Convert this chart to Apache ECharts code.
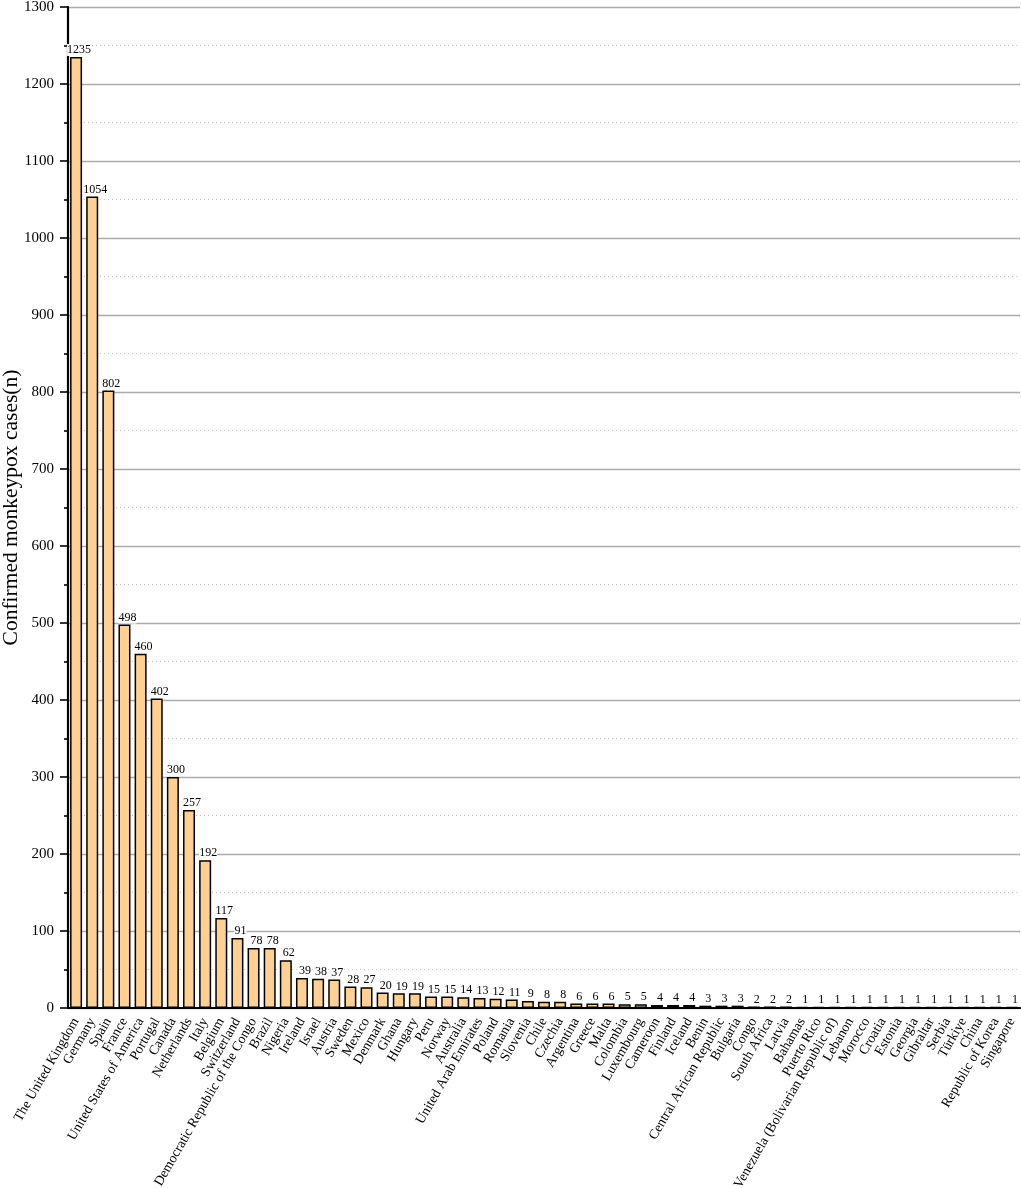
<!DOCTYPE html>
<html><head><meta charset="utf-8">
<style>html,body{margin:0;padding:0;background:#fff}#c{width:1021px;height:1188px}</style>
<script src="https://cdn.jsdelivr.net/npm/echarts@6/dist/echarts.min.js"></script>
</head><body><div id="c"></div>
<script>
const categories=["The United Kingdom","Germany","Spain","France","United States of America","Portugal","Canada","Netherlands","Italy","Belgium","Switzerland","Democratic Republic of the Congo","Brazil","Nigeria","Ireland","Israel","Austria","Sweden","Mexico","Denmark","Ghana","Hungary","Peru","Norway","Australia","United Arab Emirates","Poland","Romania","Slovenia","Chile","Czechia","Argentina","Greece","Malta","Colombia","Luxembourg","Cameroon","Finland","Iceland","Benin","Central African Republic","Bulgaria","Congo","South Africa","Latvia","Bahamas","Puerto Rico","Venezuela (Bolivarian Republic of)","Lebanon","Morocco","Croatia","Estonia","Georgia","Gibraltar","Serbia","Türkiye","China","Republic of Korea","Singapore"];
const cases=[1235,1054,802,498,460,402,300,257,192,117,91,78,78,62,39,38,37,28,27,20,19,19,15,15,14,13,12,11,9,8,8,6,6,6,5,5,4,4,4,3,3,3,2,2,2,1,1,1,1,1,1,1,1,1,1,1,1,1,1];
const yTitle="Confirmed monkeypox cases(n)";
const font="Liberation Serif";
const chart=echarts.init(document.getElementById('c'),null,{renderer:'canvas'});
chart.setOption({
 animation:false,backgroundColor:'#fff',textStyle:{fontFamily:font},
 grid:{left:68,right:1,top:7,bottom:180,containLabel:false,outerBoundsMode:'none'},
 xAxis:[{type:'category',data:categories,position:'bottom',
   axisLine:{lineStyle:{color:'#000',width:2.2}},
   axisTick:{alignWithLabel:true,length:8,lineStyle:{color:'#000',width:1.6}},
   axisLabel:{interval:0,rotate:60,color:'#000',fontFamily:font,fontSize:13.7,margin:11}},
  {type:'category',data:categories,position:'bottom',
   axisLine:{show:false},
   axisTick:{alignWithLabel:false,length:4,lineStyle:{color:'#000',width:1.6}},
   axisLabel:{show:false}}],
 yAxis:{type:'value',min:0,max:1300,interval:100,
   name:yTitle,nameLocation:'middle',nameGap:46,nameMoveOverlap:false,nameTextStyle:{fontSize:21.5,color:'#000',fontFamily:font},
   axisLine:{show:true,lineStyle:{color:'#000',width:2.2}},
   axisTick:{show:true,length:8,lineStyle:{color:'#000',width:1.6}},
   minorTick:{show:true,splitNumber:2,length:4,lineStyle:{color:'#000',width:1.6}},
   axisLabel:{color:'#000',fontFamily:font,fontSize:15,margin:14,formatter:v=>String(v)},
   splitLine:{show:true,lineStyle:{color:'#aaaaaa',width:1.3}},
   minorSplitLine:{show:true,lineStyle:{color:'#c4c4c4',width:1,type:[1,3]}}},
 series:[{type:'bar',data:cases,xAxisIndex:0,barWidth:12,
   itemStyle:{color:'#FFD093',borderColor:'#000',borderWidth:1.5},
   label:{show:true,position:'top',distance:1,offset:[3,0],color:'#000',fontFamily:font,fontSize:12,backgroundColor:'#fff',padding:0}}]
});
</script></body></html>
